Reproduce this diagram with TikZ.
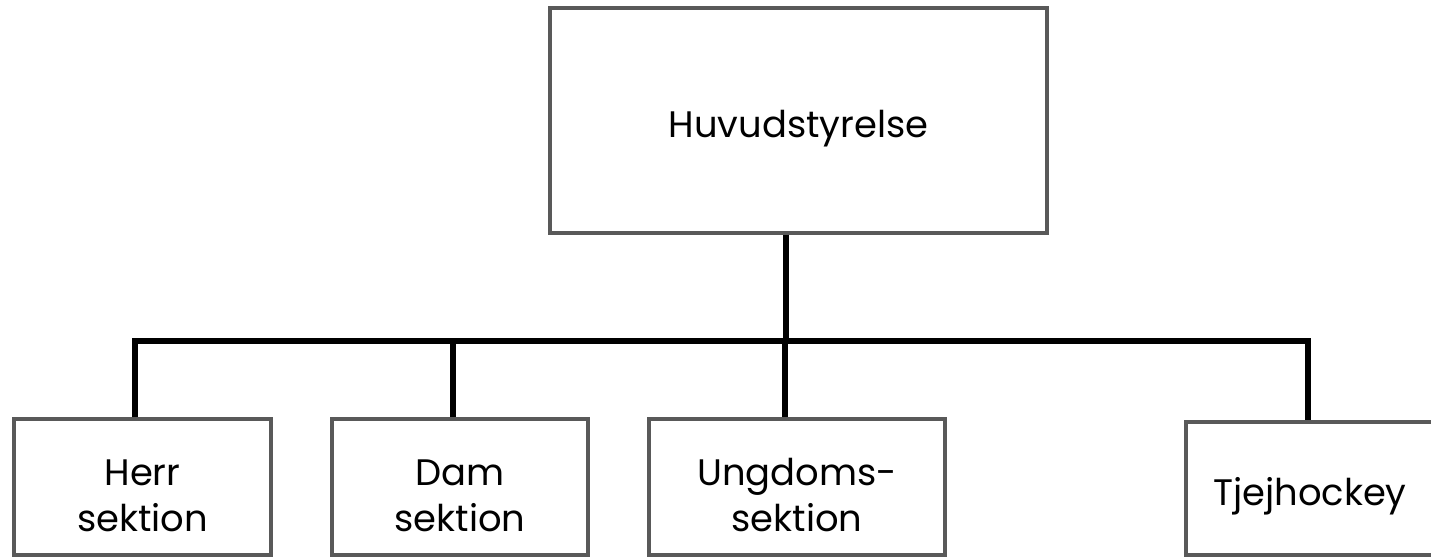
\documentclass[tikz,border=0pt]{standalone}
\usepackage{fontspec}
\setmainfont{Poppins}
\definecolor{boxgray}{HTML}{595959}
\newcommand{\pad}{\rule{0pt}{0.87cm}}
\begin{document}
\begin{tikzpicture}[x=0.02cm,y=-0.02cm,
    unit/.style={draw=boxgray,line width=2pt,align=center,inner sep=0pt,
        font=\fontsize{21pt}{26pt}\selectfont},
    conn/.style={line width=3.2pt}]
                \useasboundingbox (0,0) rectangle (1431,557);
                \clip (0,0) rectangle (1431,557);
                %% board
                \node[unit,minimum width=9.94cm,minimum height=4.5cm] (top) at (798.5,120.5) {\pad Huvudstyrelse};
                %% sections
                \node[unit,minimum width=5.14cm,minimum height=2.72cm] (herr) at (142.5,487) {\pad Herr\\sektion};
                \node[unit,minimum width=5.12cm,minimum height=2.72cm] (dam) at (460,487) {\pad Dam\\sektion};
                \node[unit,minimum width=5.92cm,minimum height=2.72cm] (ung) at (797,487) {\pad Ungdoms-\\sektion};
                \node[unit,minimum width=4.96cm,minimum height=2.66cm] (tjej) at (1310,488.5) {\pad Tjejhockey};
                %% drop points
                \coordinate (bus) at (786,341);
                \coordinate (hb) at (135,341);
                \coordinate (db) at (453,341);
                \coordinate (ub) at (785,341);
                \coordinate (tb) at (1308,341);
                %% lines
                \draw[conn] (top.south -| bus) -- (bus);
                \draw[conn] (hb |- herr.north) -- (hb) -- (tb) -- (tb |- tjej.north);
                \draw[conn] (db) -- (db |- dam.north);
                \draw[conn] (ub) -- (ub |- ung.north);
            \end{tikzpicture}
\end{document}
